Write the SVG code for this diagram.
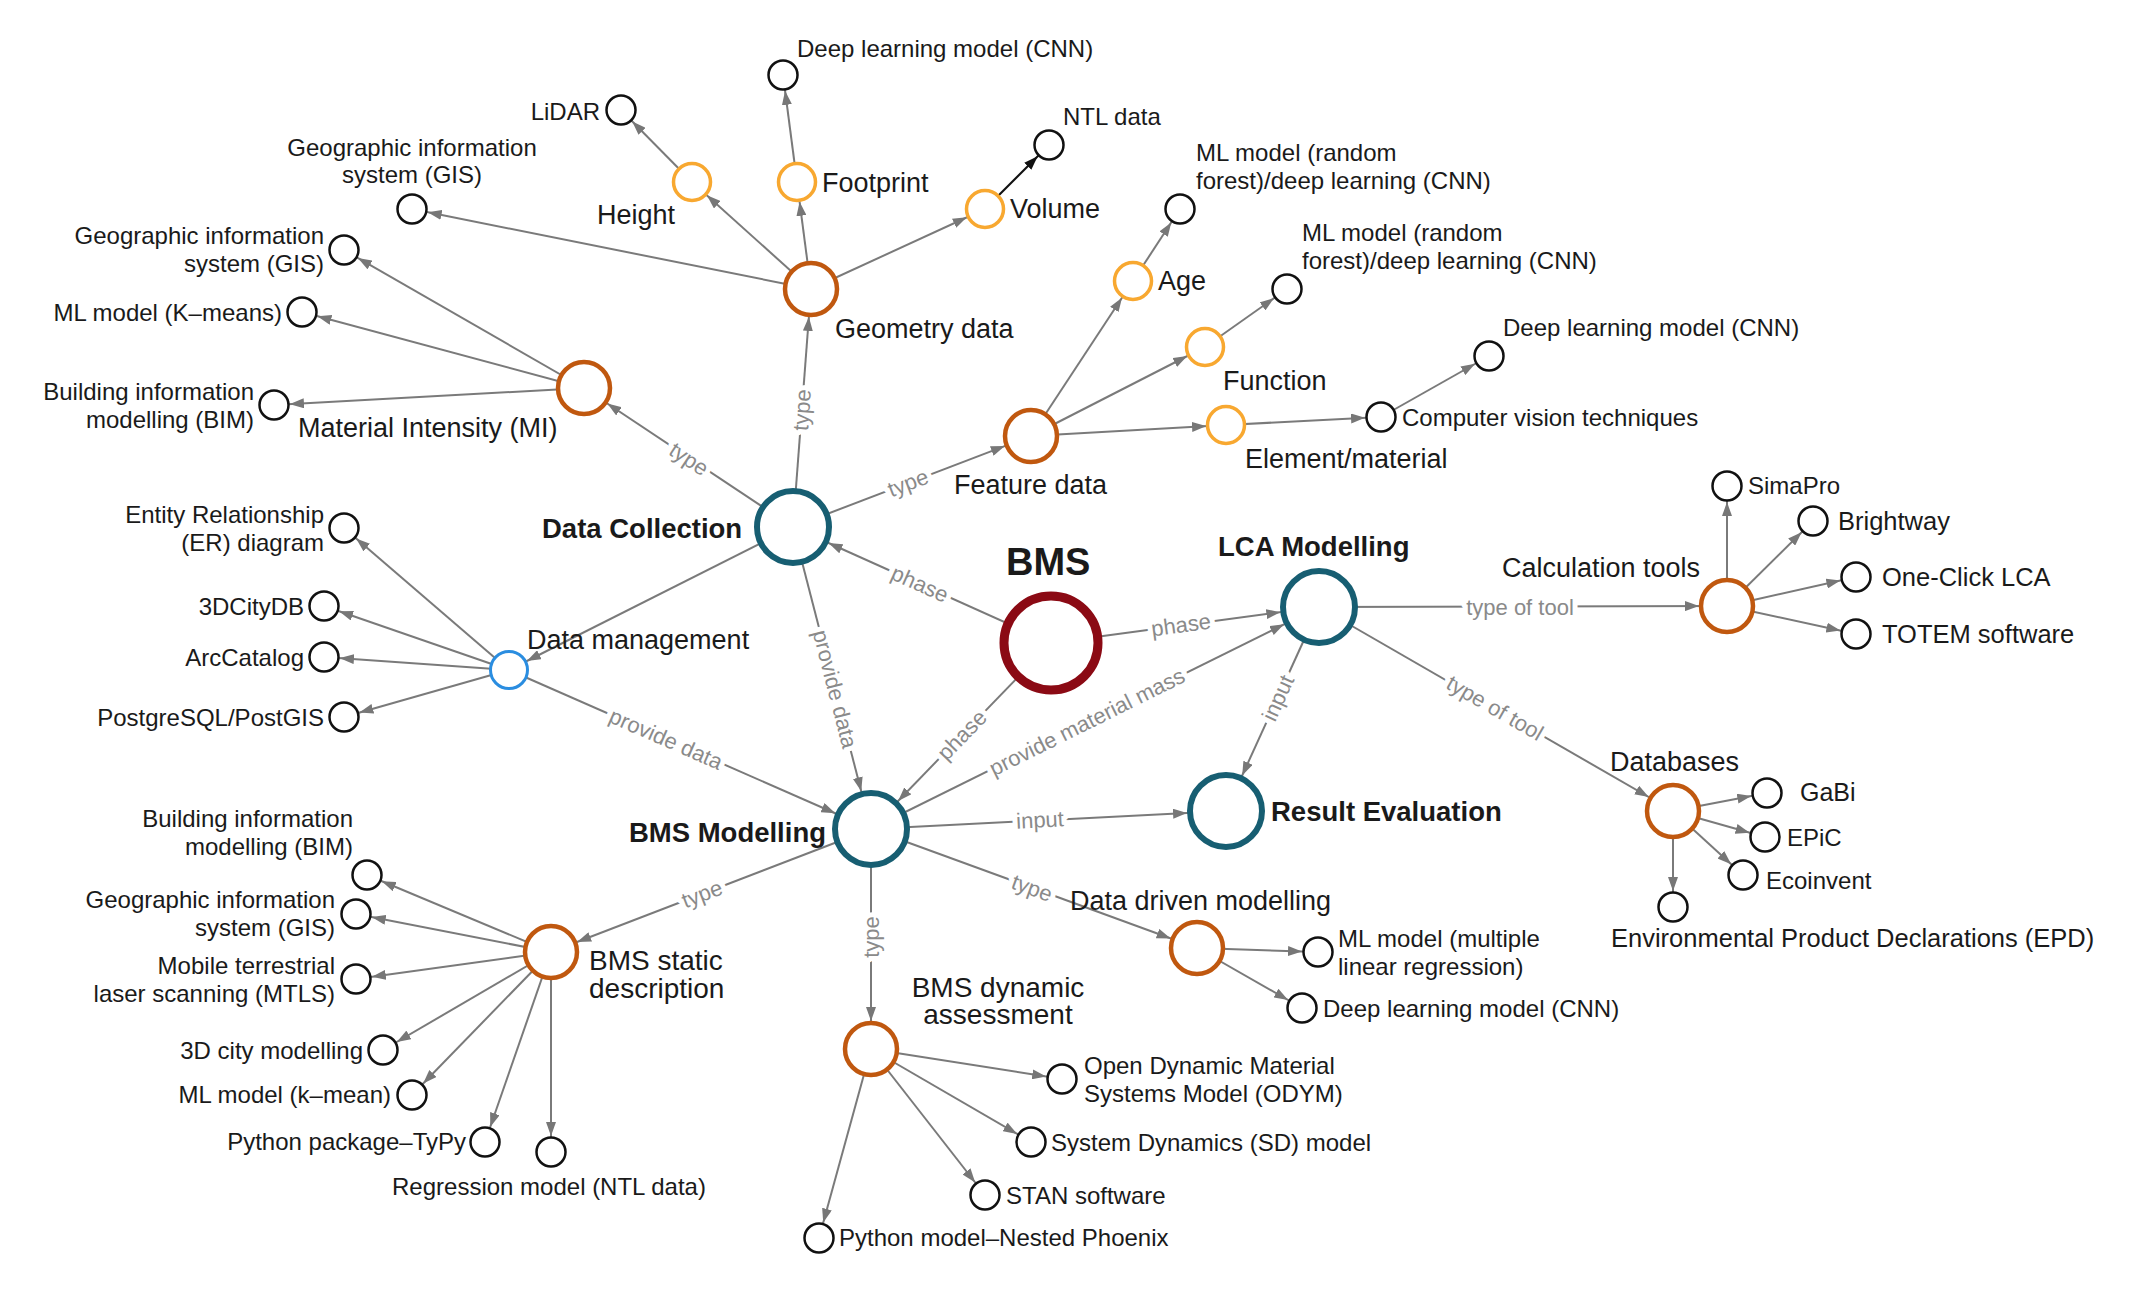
<svg xmlns="http://www.w3.org/2000/svg" width="2155" height="1294" viewBox="0 0 2155 1294">
<style>
text{font-family:"Liberation Sans",Arial,Helvetica,sans-serif;fill:#1a1a1a}
.t{font-size:24px}
.m{font-size:27px}
.b{font-size:27.5px;font-weight:bold}
.e{stroke:#7a7a7a;stroke-width:2;fill:none}
.ek{stroke:#111;stroke-width:2;fill:none}
.el{font-size:22px;fill:#8a8a8a;text-anchor:middle;dominant-baseline:central;stroke:#fff;stroke-width:10;paint-order:stroke;stroke-linejoin:round}
.leaf{fill:#fff;stroke:#111;stroke-width:2.5}
.lo{fill:#fff;stroke:#f8a830;stroke-width:3.5}
.br{fill:#fff;stroke:#c0580f;stroke-width:4.5}
.te{fill:#fff;stroke:#175e72;stroke-width:6}
.rd{fill:#fff;stroke:#8b0a14;stroke-width:9}
.bl{fill:#fff;stroke:#2a8de0;stroke-width:3}
.r{text-anchor:end}
.c{text-anchor:middle}
</style>
<defs>
<marker id="as" viewBox="0 0 14 10" markerWidth="14" markerHeight="10" markerUnits="userSpaceOnUse" refX="30" refY="5" orient="auto"><path d="M0,0L14,5L0,10Z" fill="#777"/></marker>
<marker id="ak" viewBox="0 0 14 10" markerWidth="14" markerHeight="10" markerUnits="userSpaceOnUse" refX="30" refY="5" orient="auto"><path d="M0,0L14,5L0,10Z" fill="#111"/></marker>
<marker id="ao" viewBox="0 0 14 10" markerWidth="14" markerHeight="10" markerUnits="userSpaceOnUse" refX="34" refY="5" orient="auto"><path d="M0,0L14,5L0,10Z" fill="#777"/></marker>
<marker id="ab" viewBox="0 0 14 10" markerWidth="14" markerHeight="10" markerUnits="userSpaceOnUse" refX="42" refY="5" orient="auto"><path d="M0,0L14,5L0,10Z" fill="#777"/></marker>
<marker id="at" viewBox="0 0 14 10" markerWidth="14" markerHeight="10" markerUnits="userSpaceOnUse" refX="53" refY="5" orient="auto"><path d="M0,0L14,5L0,10Z" fill="#777"/></marker>
<marker id="au" viewBox="0 0 14 10" markerWidth="14" markerHeight="10" markerUnits="userSpaceOnUse" refX="34" refY="5" orient="auto"><path d="M0,0L14,5L0,10Z" fill="#777"/></marker>
</defs>
<rect width="2155" height="1294" fill="#fff"/>
<g id="connectors">
<line class="e" x1="811" y1="289" x2="692" y2="182" marker-end="url(#ao)"/>
<line class="e" x1="692" y1="182" x2="621" y2="110" marker-end="url(#as)"/>
<line class="e" x1="811" y1="289" x2="797" y2="182" marker-end="url(#ao)"/>
<line class="e" x1="797" y1="182" x2="783" y2="75" marker-end="url(#as)"/>
<line class="e" x1="811" y1="289" x2="985" y2="209" marker-end="url(#ao)"/>
<line class="ek" x1="985" y1="209" x2="1049" y2="145" marker-end="url(#ak)"/>
<line class="e" x1="811" y1="289" x2="412" y2="209" marker-end="url(#as)"/>
<line class="e" x1="584" y1="388" x2="344" y2="250" marker-end="url(#as)"/>
<line class="e" x1="584" y1="388" x2="302" y2="312" marker-end="url(#as)"/>
<line class="e" x1="584" y1="388" x2="274" y2="405" marker-end="url(#as)"/>
<line class="e" x1="793" y1="527" x2="584" y2="388" marker-end="url(#ab)"/>
<line class="e" x1="793" y1="527" x2="811" y2="289" marker-end="url(#ab)"/>
<line class="e" x1="793" y1="527" x2="1031" y2="436" marker-end="url(#ab)"/>
<line class="e" x1="1031" y1="436" x2="1133" y2="281" marker-end="url(#ao)"/>
<line class="e" x1="1133" y1="281" x2="1180" y2="209" marker-end="url(#as)"/>
<line class="e" x1="1031" y1="436" x2="1205" y2="347" marker-end="url(#ao)"/>
<line class="e" x1="1205" y1="347" x2="1287" y2="289" marker-end="url(#as)"/>
<line class="e" x1="1031" y1="436" x2="1226" y2="425" marker-end="url(#ao)"/>
<line class="e" x1="1226" y1="425" x2="1381" y2="417" marker-end="url(#as)"/>
<line class="e" x1="1381" y1="417" x2="1489" y2="356" marker-end="url(#as)"/>
<line class="e" x1="793" y1="527" x2="509" y2="670" marker-end="url(#au)"/>
<line class="e" x1="509" y1="670" x2="344" y2="528" marker-end="url(#as)"/>
<line class="e" x1="509" y1="670" x2="324" y2="606" marker-end="url(#as)"/>
<line class="e" x1="509" y1="670" x2="324" y2="657" marker-end="url(#as)"/>
<line class="e" x1="509" y1="670" x2="344" y2="717" marker-end="url(#as)"/>
<line class="e" x1="509" y1="670" x2="871" y2="829" marker-end="url(#at)"/>
<line class="e" x1="793" y1="527" x2="871" y2="829" marker-end="url(#at)"/>
<line class="e" x1="1051" y1="643" x2="793" y2="527" marker-end="url(#at)"/>
<line class="e" x1="1051" y1="643" x2="1319" y2="607" marker-end="url(#at)"/>
<line class="e" x1="1051" y1="643" x2="871" y2="829" marker-end="url(#at)"/>
<line class="e" x1="871" y1="829" x2="1319" y2="607" marker-end="url(#at)"/>
<line class="e" x1="1319" y1="607" x2="1226" y2="811" marker-end="url(#at)"/>
<line class="e" x1="871" y1="829" x2="1226" y2="811" marker-end="url(#at)"/>
<line class="e" x1="1319" y1="607" x2="1727" y2="606" marker-end="url(#ab)"/>
<line class="e" x1="1319" y1="607" x2="1673" y2="811" marker-end="url(#ab)"/>
<line class="e" x1="1727" y1="606" x2="1727" y2="486" marker-end="url(#as)"/>
<line class="e" x1="1727" y1="606" x2="1813" y2="521" marker-end="url(#as)"/>
<line class="e" x1="1727" y1="606" x2="1856" y2="577" marker-end="url(#as)"/>
<line class="e" x1="1727" y1="606" x2="1856" y2="634" marker-end="url(#as)"/>
<line class="e" x1="1673" y1="811" x2="1767" y2="793" marker-end="url(#as)"/>
<line class="e" x1="1673" y1="811" x2="1765" y2="837" marker-end="url(#as)"/>
<line class="e" x1="1673" y1="811" x2="1743" y2="875" marker-end="url(#as)"/>
<line class="e" x1="1673" y1="811" x2="1673" y2="907" marker-end="url(#as)"/>
<line class="e" x1="871" y1="829" x2="551" y2="952" marker-end="url(#ab)"/>
<line class="e" x1="551" y1="952" x2="367" y2="875" marker-end="url(#as)"/>
<line class="e" x1="551" y1="952" x2="356" y2="914" marker-end="url(#as)"/>
<line class="e" x1="551" y1="952" x2="356" y2="979" marker-end="url(#as)"/>
<line class="e" x1="551" y1="952" x2="383" y2="1050" marker-end="url(#as)"/>
<line class="e" x1="551" y1="952" x2="412" y2="1095" marker-end="url(#as)"/>
<line class="e" x1="551" y1="952" x2="485" y2="1142" marker-end="url(#as)"/>
<line class="e" x1="551" y1="952" x2="551" y2="1152" marker-end="url(#as)"/>
<line class="e" x1="871" y1="829" x2="1197" y2="948" marker-end="url(#ab)"/>
<line class="e" x1="1197" y1="948" x2="1318" y2="952" marker-end="url(#as)"/>
<line class="e" x1="1197" y1="948" x2="1302" y2="1008" marker-end="url(#as)"/>
<line class="e" x1="871" y1="829" x2="871" y2="1049" marker-end="url(#ab)"/>
<line class="e" x1="871" y1="1049" x2="1062" y2="1079" marker-end="url(#as)"/>
<line class="e" x1="871" y1="1049" x2="1031" y2="1142" marker-end="url(#as)"/>
<line class="e" x1="871" y1="1049" x2="985" y2="1195" marker-end="url(#as)"/>
<line class="e" x1="871" y1="1049" x2="819" y2="1238" marker-end="url(#as)"/>
<text class="el" transform="translate(689,459) rotate(33.6)">type</text>
<text class="el" transform="translate(802,410) rotate(-85.7)">type</text>
<text class="el" transform="translate(908,483) rotate(-20.9)">type</text>
<text class="el" transform="translate(920,584) rotate(24.2)">phase</text>
<text class="el" transform="translate(1181,625) rotate(-7.7)">phase</text>
<text class="el" transform="translate(962,735) rotate(-45.9)">phase</text>
<text class="el" transform="translate(1087,722) rotate(-26.4)">provide material mass</text>
<text class="el" transform="translate(1278,698) rotate(-65.5)">input</text>
<text class="el" transform="translate(1040,820) rotate(-2.9)">input</text>
<text class="el" transform="translate(1520,607)">type of tool</text>
<text class="el" transform="translate(1495,708) rotate(30)">type of tool</text>
<text class="el" transform="translate(835,689) rotate(75.5)">provide data</text>
<text class="el" transform="translate(666,739) rotate(23.7)">provide data</text>
<text class="el" transform="translate(702,894) rotate(-21)">type</text>
<text class="el" transform="translate(1032,888) rotate(20)">type</text>
<text class="el" transform="translate(871,937) rotate(-90)">type</text>
</g>
<g id="n_bms"><circle class="rd" cx="1051" cy="643" r="47"/><text x="1006" y="575" style="font-size:38px;font-weight:bold">BMS</text></g>
<g id="n_dc"><circle class="te" cx="793" cy="527" r="36"/><text class="b" x="542" y="538">Data Collection</text></g>
<g id="n_lca"><circle class="te" cx="1319" cy="607" r="36"/><text class="b" x="1218" y="556">LCA Modelling</text></g>
<g id="n_bmsmod"><circle class="te" cx="871" cy="829" r="36"/><text class="b r" x="826" y="842">BMS Modelling</text></g>
<g id="n_result"><circle class="te" cx="1226" cy="811" r="36"/><text class="b" x="1271" y="821">Result Evaluation</text></g>
<g id="n_geom"><circle class="br" cx="811" cy="289" r="26"/><text class="m" x="835" y="338">Geometry data</text></g>
<g id="n_mi"><circle class="br" cx="584" cy="388" r="26"/><text class="m" x="298" y="437">Material Intensity (MI)</text></g>
<g id="n_feat"><circle class="br" cx="1031" cy="436" r="26"/><text class="m" x="954" y="494">Feature data</text></g>
<g id="n_calc"><circle class="br" cx="1727" cy="606" r="26"/><text class="m" x="1502" y="577">Calculation tools</text></g>
<g id="n_db"><circle class="br" cx="1673" cy="811" r="26"/><text class="m" x="1610" y="771">Databases</text></g>
<g id="n_static"><circle class="br" cx="551" cy="952" r="26"/><text class="m" x="589" y="970" style="font-size:28px">BMS static<tspan x="589" dy="28">description</tspan></text></g>
<g id="n_dynamic"><circle class="br" cx="871" cy="1049" r="26"/><text class="m c" x="998" y="997" style="font-size:28px">BMS dynamic<tspan x="998" dy="27">assessment</tspan></text></g>
<g id="n_ddm"><circle class="br" cx="1197" cy="948" r="26"/><text class="m" x="1070" y="910">Data driven modelling</text></g>
<g id="n_height"><circle class="lo" cx="692" cy="182" r="18.5"/><text class="m" x="597" y="224">Height</text></g>
<g id="n_foot"><circle class="lo" cx="797" cy="182" r="18.5"/><text class="m" x="822" y="192">Footprint</text></g>
<g id="n_vol"><circle class="lo" cx="985" cy="209" r="18.5"/><text class="m" x="1010" y="218">Volume</text></g>
<g id="n_age"><circle class="lo" cx="1133" cy="281" r="18.5"/><text class="m" x="1158" y="290">Age</text></g>
<g id="n_func"><circle class="lo" cx="1205" cy="347" r="18.5"/><text class="m" x="1223" y="390">Function</text></g>
<g id="n_elem"><circle class="lo" cx="1226" cy="425" r="18.5"/><text class="m" x="1245" y="468">Element/material</text></g>
<g id="n_dm"><circle class="bl" cx="509" cy="670" r="18.5"/><text class="m" x="527" y="649">Data management</text></g>
<g id="l_lidar"><circle class="leaf" cx="621" cy="110" r="14.5"/><text class="t r" x="600" y="120">LiDAR</text></g>
<g id="l_cnn1"><circle class="leaf" cx="783" cy="75" r="14.5"/><text class="t" x="797" y="57">Deep learning model (CNN)</text></g>
<g id="l_ntl"><circle class="leaf" cx="1049" cy="145" r="14.5"/><text class="t" x="1063" y="125">NTL data</text></g>
<g id="l_gis1"><circle class="leaf" cx="412" cy="209" r="14.5"/><text class="t c" x="412" y="156">Geographic information<tspan x="412" dy="27">system (GIS)</tspan></text></g>
<g id="l_gis2"><circle class="leaf" cx="344" cy="250" r="14.5"/><text class="t r" x="324" y="244">Geographic information<tspan x="324" dy="28">system (GIS)</tspan></text></g>
<g id="l_kmeans"><circle class="leaf" cx="302" cy="312" r="14.5"/><text class="t r" x="282" y="321">ML model (K–means)</text></g>
<g id="l_bim1"><circle class="leaf" cx="274" cy="405" r="14.5"/><text class="t r" x="254" y="400">Building information<tspan x="254" dy="28">modelling (BIM)</tspan></text></g>
<g id="l_rf1"><circle class="leaf" cx="1180" cy="209" r="14.5"/><text class="t" x="1196" y="161">ML model (random<tspan x="1196" dy="28">forest)/deep learning (CNN)</tspan></text></g>
<g id="l_rf2"><circle class="leaf" cx="1287" cy="289" r="14.5"/><text class="t" x="1302" y="241">ML model (random<tspan x="1302" dy="28">forest)/deep learning (CNN)</tspan></text></g>
<g id="l_cv"><circle class="leaf" cx="1381" cy="417" r="14.5"/><text class="t" x="1402" y="426">Computer vision techniques</text></g>
<g id="l_cnn2"><circle class="leaf" cx="1489" cy="356" r="14.5"/><text class="t" x="1503" y="336">Deep learning model (CNN)</text></g>
<g id="l_er"><circle class="leaf" cx="344" cy="528" r="14.5"/><text class="t r" x="324" y="523">Entity Relationship<tspan x="324" dy="28">(ER) diagram</tspan></text></g>
<g id="l_3dc"><circle class="leaf" cx="324" cy="606" r="14.5"/><text class="t r" x="304" y="615">3DCityDB</text></g>
<g id="l_arc"><circle class="leaf" cx="324" cy="657" r="14.5"/><text class="t r" x="304" y="666">ArcCatalog</text></g>
<g id="l_pg"><circle class="leaf" cx="344" cy="717" r="14.5"/><text class="t r" x="324" y="726">PostgreSQL/PostGIS</text></g>
<g id="l_simapro"><circle class="leaf" cx="1727" cy="486" r="14.5"/><text class="t" x="1748" y="494">SimaPro</text></g>
<g id="l_bright"><circle class="leaf" cx="1813" cy="521" r="14.5"/><text class="t" x="1838" y="530" style="font-size:25.5px">Brightway</text></g>
<g id="l_oneclick"><circle class="leaf" cx="1856" cy="577" r="14.5"/><text class="t" x="1882" y="586" style="font-size:25.5px">One-Click LCA</text></g>
<g id="l_totem"><circle class="leaf" cx="1856" cy="634" r="14.5"/><text class="t" x="1882" y="643" style="font-size:25.5px">TOTEM software</text></g>
<g id="l_gabi"><circle class="leaf" cx="1767" cy="793" r="14.5"/><text class="t" x="1800" y="801" style="font-size:25px">GaBi</text></g>
<g id="l_epic"><circle class="leaf" cx="1765" cy="837" r="14.5"/><text class="t" x="1787" y="846">EPiC</text></g>
<g id="l_eco"><circle class="leaf" cx="1743" cy="875" r="14.5"/><text class="t" x="1766" y="889">Ecoinvent</text></g>
<g id="l_epd"><circle class="leaf" cx="1673" cy="907" r="14.5"/><text class="t" x="1611" y="947" style="font-size:25.5px">Environmental Product Declarations (EPD)</text></g>
<g id="l_bim2"><circle class="leaf" cx="367" cy="875" r="14.5"/><text class="t r" x="353" y="827">Building information<tspan x="353" dy="28">modelling (BIM)</tspan></text></g>
<g id="l_gis3"><circle class="leaf" cx="356" cy="914" r="14.5"/><text class="t r" x="335" y="908">Geographic information<tspan x="335" dy="28">system (GIS)</tspan></text></g>
<g id="l_mtls"><circle class="leaf" cx="356" cy="979" r="14.5"/><text class="t r" x="335" y="974">Mobile terrestrial<tspan x="335" dy="28">laser scanning (MTLS)</tspan></text></g>
<g id="l_3dcity"><circle class="leaf" cx="383" cy="1050" r="14.5"/><text class="t r" x="363" y="1059">3D city modelling</text></g>
<g id="l_kmean"><circle class="leaf" cx="412" cy="1095" r="14.5"/><text class="t r" x="391" y="1103">ML model (k–mean)</text></g>
<g id="l_typy"><circle class="leaf" cx="485" cy="1142" r="14.5"/><text class="t r" x="466" y="1150">Python package–TyPy</text></g>
<g id="l_regr"><circle class="leaf" cx="551" cy="1152" r="14.5"/><text class="t c" x="549" y="1195">Regression model (NTL data)</text></g>
<g id="l_mlr"><circle class="leaf" cx="1318" cy="952" r="14.5"/><text class="t" x="1338" y="947">ML model (multiple<tspan x="1338" dy="28">linear regression)</tspan></text></g>
<g id="l_cnn3"><circle class="leaf" cx="1302" cy="1008" r="14.5"/><text class="t" x="1323" y="1017">Deep learning model (CNN)</text></g>
<g id="l_odym"><circle class="leaf" cx="1062" cy="1079" r="14.5"/><text class="t" x="1084" y="1074">Open Dynamic Material<tspan x="1084" dy="28">Systems Model (ODYM)</tspan></text></g>
<g id="l_sd"><circle class="leaf" cx="1031" cy="1142" r="14.5"/><text class="t" x="1051" y="1151">System Dynamics (SD) model</text></g>
<g id="l_stan"><circle class="leaf" cx="985" cy="1195" r="14.5"/><text class="t" x="1006" y="1204">STAN software</text></g>
<g id="l_phoenix"><circle class="leaf" cx="819" cy="1238" r="14.5"/><text class="t" x="839" y="1246">Python model–Nested Phoenix</text></g>
</svg>
